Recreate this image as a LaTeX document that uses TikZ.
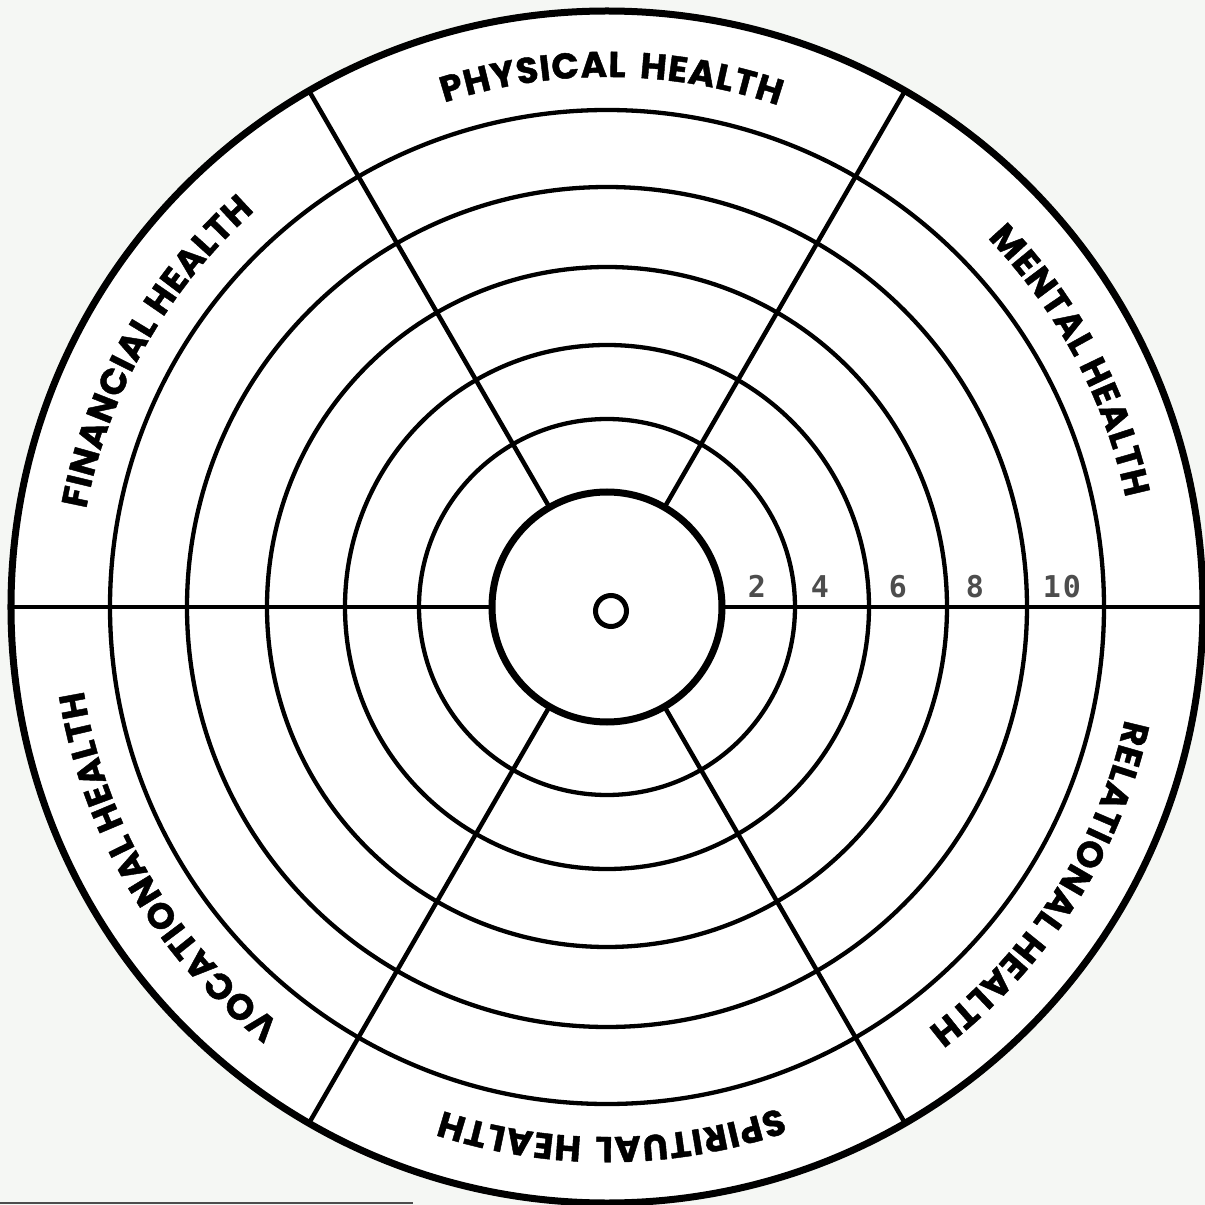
\documentclass[tikz,border=0pt]{standalone}
\usepackage{fontspec}
\newfontfamily\lblfont[BoldFeatures={FakeBold=1.2}]{Poppins}
\newfontfamily\numfont{DejaVu Sans Mono}
\definecolor{bgc}{HTML}{F5F7F4}
\definecolor{numc}{HTML}{4D4D4D}
\newcommand\lblfontsel{\lblfont\bfseries\fontsize{36}{36}\selectfont}
\newdimen\arcW
\newdimen\arcTmp
% #1 tag, #2 centre angle, #3 radius, #4 letter spacing, #5 letters
\newcommand\prepArc[5]{%
  \global\arcW=0pt
  \foreach \ch in {#5}{%
    \setbox0=\hbox{\lblfontsel\ch}%
    \global\advance\arcW by \wd0
    \global\advance\arcW by #4pt
  }%
  \global\advance\arcW by -#4pt
  \pgfmathsetmacro\arcStart{#2+\arcW/2/#3*57.29578}%
  \xdef\arcAng{\arcStart}%
  \foreach \ch [count=\i] in {#5}{%
    \setbox0=\hbox{\lblfontsel\ch}%
    \arcTmp=\wd0
    \pgfmathsetmacro\arcMid{\arcAng-\arcTmp/2/#3*57.29578}%
    \expandafter\xdef\csname arcang#1\i\endcsname{\arcMid}%
    \pgfmathsetmacro\arcNext{\arcAng-(\arcTmp+#4pt)/#3*57.29578}%
    \xdef\arcAng{\arcNext}%
  }%
}
% #1 tag, #2 radius, #3 letters
\newcommand\drawArc[3]{%
  \foreach \ch [count=\i] in {#3}{%
    \edef\arcMid{\csname arcang#1\i\endcsname}%
    \node[lbltxt, rotate=\arcMid-90] (#1\i) at (\arcMid:#2pt) {\ch};
  }%
}
\begin{document}
\prepArc{phys}{89.5}{530}{1.0}{P,H,Y,S,I,C,A,L,\kern12pt,H,E,A,L,T,H}%
\prepArc{ment}{28}{530}{0.8}{M,E,N,T,A,L,\kern7pt,H,E,A,L,T,H}%
\prepArc{rel}{-32.5}{530}{0.8}{R,E,L,A,T,I,O,N,A,L,\kern7pt,H,E,A,L,T,H}%
\prepArc{spir}{-89.5}{530}{1.0}{S,P,I,R,I,T,U,A,L,\kern12pt,H,E,A,L,T,H}%
\prepArc{voc}{-149.5}{530}{0.8}{V,O,C,A,T,I,O,N,A,L,\kern7pt,H,E,A,L,T,H}%
\prepArc{fin}{150.5}{530}{0.8}{F,I,N,A,N,C,I,A,L,\kern7pt,H,E,A,L,T,H}%
\begin{tikzpicture}[
  ring/.style={line width=4.3pt},
  thickring/.style={line width=7pt},
  spoke/.style={line width=4.5pt},
  lbltxt/.style={anchor=base, inner sep=0pt, font=\lblfontsel},
  num/.style={font=\numfont\bfseries\fontsize{30}{30}\selectfont, text=numc, inner sep=0pt, anchor=base},
]
\path[use as bounding box, fill=bgc] (-607pt,-598pt) rectangle (598pt,607pt);
\coordinate (O) at (0,0);
\fill[white] (O) circle[radius=596pt];
% rings
\foreach \r in {188,262,340,420,497}
  \draw[ring] (O) circle[radius=\r pt];
% spokes
\foreach \a in {0,60,120,180,240,300}
  \draw[spoke] (\a:115pt) -- (\a:596pt);
% inner thick circle
\draw[thickring, fill=white] (O) circle[radius=115pt];
% outer circle
\draw[thickring] (O) circle[radius=596pt];
% center small circle
\draw[line width=5pt] (4pt,-4pt) circle[radius=15.5pt];
% labels
\drawArc{phys}{530}{P,H,Y,S,I,C,A,L,\kern12pt,H,E,A,L,T,H}
\drawArc{ment}{530}{M,E,N,T,A,L,\kern7pt,H,E,A,L,T,H}
\drawArc{rel}{530}{R,E,L,A,T,I,O,N,A,L,\kern7pt,H,E,A,L,T,H}
\drawArc{spir}{530}{S,P,I,R,I,T,U,A,L,\kern12pt,H,E,A,L,T,H}
\drawArc{voc}{530}{V,O,C,A,T,I,O,N,A,L,\kern7pt,H,E,A,L,T,H}
\drawArc{fin}{530}{F,I,N,A,N,C,I,A,L,\kern7pt,H,E,A,L,T,H}
% numbers
\node[num] (n2) at (150pt,10pt) {2};
\node[num] (n4) at (213pt,10pt) {4};
\node[num] (n6) at (291pt,10pt) {6};
\node[num] (n8) at (368pt,10pt) {8};
\node[num] (n10) at (455pt,10pt) {1\kern2pt0};
% bottom-left rule
\coordinate (bl1) at (-607pt,-596pt);
\coordinate (bl2) at (-194pt,-596pt);
\draw[line width=1.4pt, color=numc] (bl1) -- (bl2);
\end{tikzpicture}
\end{document}
